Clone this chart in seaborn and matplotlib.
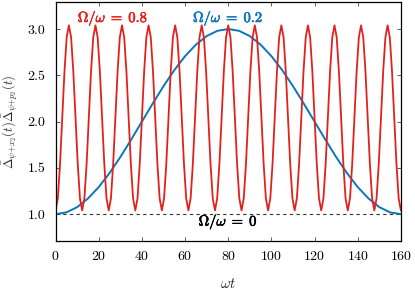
import numpy as np
import seaborn as sns
import matplotlib
matplotlib.use("Agg")
import matplotlib.pyplot as plt
import matplotlib.patheffects as pe

wt_red = np.linspace(0, 160, 157)
delta_red = [
    1.04, 1.17, 1.54, 2.04, 2.54, 2.91, 3.04, 2.91, 2.54, 2.04, 1.54, 1.17,
    1.04, 1.17, 1.54, 2.04, 2.54, 2.91, 3.04, 2.91, 2.54, 2.04, 1.54, 1.17,
    1.04, 1.17, 1.54, 2.04, 2.54, 2.91, 3.04, 2.91, 2.54, 2.04, 1.54, 1.17,
    1.04, 1.17, 1.54, 2.04, 2.54, 2.91, 3.04, 2.91, 2.54, 2.04, 1.54, 1.17,
    1.04, 1.17, 1.54, 2.04, 2.54, 2.91, 3.04, 2.91, 2.54, 2.04, 1.54, 1.17,
    1.04, 1.17, 1.54, 2.04, 2.54, 2.91, 3.04, 2.91, 2.54, 2.04, 1.54, 1.17,
    1.04, 1.17, 1.54, 2.04, 2.54, 2.91, 3.04, 2.91, 2.54, 2.04, 1.54, 1.17,
    1.04, 1.17, 1.54, 2.04, 2.54, 2.91, 3.04, 2.91, 2.54, 2.04, 1.54, 1.17,
    1.04, 1.17, 1.54, 2.04, 2.54, 2.91, 3.04, 2.91, 2.54, 2.04, 1.54, 1.17,
    1.04, 1.17, 1.54, 2.04, 2.54, 2.91, 3.04, 2.91, 2.54, 2.04, 1.54, 1.17,
    1.04, 1.17, 1.54, 2.04, 2.54, 2.91, 3.04, 2.91, 2.54, 2.04, 1.54, 1.17,
    1.04, 1.17, 1.54, 2.04, 2.54, 2.91, 3.04, 2.91, 2.54, 2.04, 1.54, 1.17,
    1.04, 1.17, 1.54, 2.04, 2.54, 2.91, 3.04, 2.91, 2.54, 2.04, 1.54, 1.17,
    1.04,
]

wt_blue = [0, 5, 10, 15, 20, 25, 30, 35, 40, 45, 50, 55, 60, 65, 70, 75, 80,
           85, 90, 95, 100, 105, 110, 115, 120, 125, 130, 135, 140, 145, 150, 155, 160]
delta_blue = [1.000, 1.019, 1.076, 1.169, 1.293, 1.444, 1.617, 1.805, 2.000,
              2.195, 2.383, 2.556, 2.707, 2.831, 2.924, 2.981, 3.000,
              2.981, 2.924, 2.831, 2.707, 2.556, 2.383, 2.195, 2.000,
              1.805, 1.617, 1.444, 1.293, 1.169, 1.076, 1.019, 1.000]

wt_zero = [0, 160]
delta_zero = [1.0, 1.0]

xticks = [0, 20, 40, 60, 80, 100, 120, 140, 160]
yticks = [1.0, 1.5, 2.0, 2.5, 3.0]

red = "#e3211c"
blue = "#0c75b9"

sns.set_style("ticks")
plt.rcParams["font.family"] = ["serif"]
plt.rcParams["font.serif"] = ["cmr10", "DejaVu Serif"]
plt.rcParams["mathtext.fontset"] = "cm"
plt.rcParams["axes.formatter.use_mathtext"] = True

fig = plt.figure(figsize=(4.15, 2.9), dpi=100)
ax = fig.add_axes([0.134, 0.169, 0.832, 0.825])

ax.plot(wt_zero, delta_zero, color="#333333", lw=0.8, ls=(0, (3, 3)))
sns.lineplot(x=wt_blue, y=delta_blue, ax=ax, color=blue, lw=1.4)
sns.lineplot(x=wt_red, y=delta_red, ax=ax, color=red, lw=1.3)

ax.set_xlim(0, 160)
ax.set_ylim(0.71, 3.295)
ax.set_xticks(xticks)
ax.set_yticks(yticks)
ax.set_yticklabels([f"{v:.1f}" for v in yticks])
ax.tick_params(direction="in", top=True, right=True, length=3, width=0.6,
               colors="#444444", labelcolor="black", labelsize=10)
ax.tick_params(axis="x", pad=6.5)
ax.tick_params(axis="y", pad=7.5)
for s in ax.spines.values():
    s.set_linewidth(0.9)
    s.set_color("black")

ax.set_xlabel(r"$\omega t$", fontsize=10.5, labelpad=10)
ax.set_ylabel(r"$\bar{\Delta}_{\psi{+}x_2}(t)\bar{\Delta}_{\psi{+}p_2}(t)$", fontsize=9, labelpad=5)

def bold(c):
    return [pe.withStroke(linewidth=0.45, foreground=c)]

ax.text(26.6, 3.12, r"$\Omega/\omega\;=\;0.8$", color=red, ha="center", va="center",
        fontsize=10.5, path_effects=bold(red))
ax.text(80, 3.12, r"$\Omega/\omega\;=\;0.2$", color=blue, ha="center", va="center",
        fontsize=10.5, path_effects=bold(blue))
ax.text(80, 0.92, r"$\Omega/\omega\;=\;0$", color="black", ha="center", va="center",
        fontsize=10.5, path_effects=bold("black"))

fig.savefig("out.png", dpi=100)
